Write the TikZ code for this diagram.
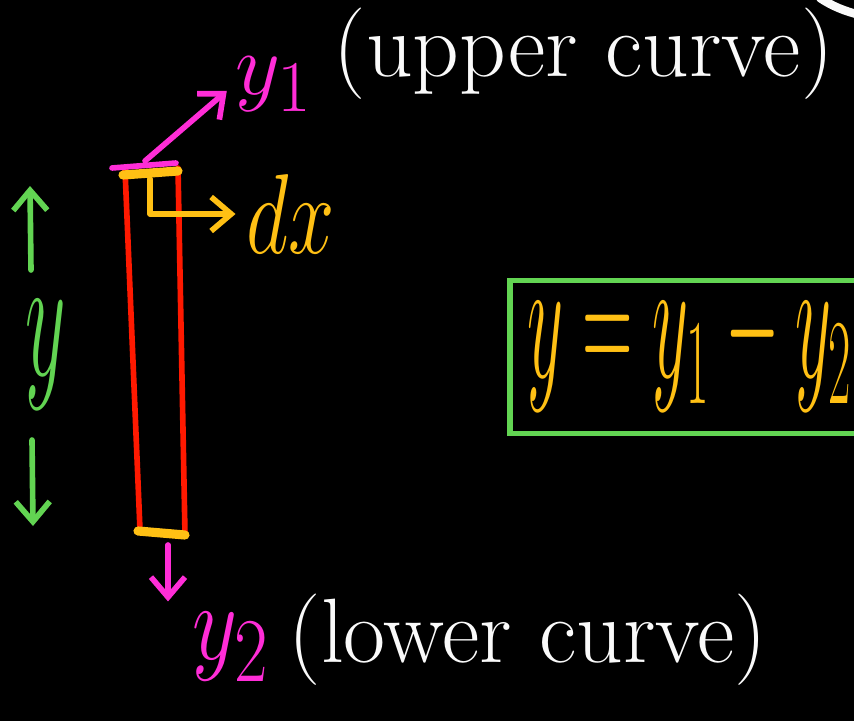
\documentclass[tikz,border=0pt]{standalone}
\usetikzlibrary{arrows.meta, positioning, calc}
\definecolor{boardblack}{RGB}{0,0,0}
\definecolor{penpink}{RGB}{255,45,215}
\definecolor{pengreen}{RGB}{98,212,82}
\definecolor{penorange}{RGB}{255,192,20}
\definecolor{penred}{RGB}{255,25,0}
\definecolor{penwhite}{RGB}{250,250,250}

\begin{document}
\begin{tikzpicture}[
    x=0.01cm, y=-0.01cm,
    >={Straight Barb[length=2mm, width=3.4mm]},
    % Pen styles
    stroke/.style={line width=1.6pt, line cap=round, line join=round},
    stripline/.style={line width=1.6pt, draw=penred, line cap=round},
    pinkarrow/.style={stroke, ->, draw=penpink},
    greenarrow/.style={stroke, ->, draw=pengreen},
    orangearrow/.style={stroke, ->, draw=penorange},
    % Text styles
    curvelabel/.style={
        text=penwhite, inner sep=0pt,
        font=\fontsize{26}{30}\selectfont
    },
    tallmath/.style={
        inner sep=0pt, transform shape, xscale=#1
    },
    pinklabel/.style={tallmath=1, text=penpink, font=\fontsize{28}{32}\selectfont},
    greenlabel/.style={tallmath=0.9, yscale=2.0, text=pengreen, font=\fontsize{24}{28}\selectfont},
    orangelabel/.style={tallmath=0.95, yscale=1.3, text=penorange, font=\fontsize{24}{28}\selectfont},
    formula/.style={tallmath=0.8, yscale=2.0, text=penorange, font=\fontsize{26}{30}\selectfont},
    areabox/.style={
        draw=pengreen, line width=1.6pt, rectangle,
        minimum width=4cm, minimum height=1.53cm
    },
]

% ===== BOARD =====
\fill[boardblack] (0,0) rectangle (854,721);
\useasboundingbox (0,0) rectangle (854,721);
\clip (0,0) rectangle (854,721);
\draw[penwhite, line width=2.4pt, line cap=round] (820,-2) .. controls (832,6) and (844,11) .. (860,15);

% ===== STRIP =====
\coordinate (tl) at (125,169);
\coordinate (bl) at (140,530);
\coordinate (tr) at (178,168);
\coordinate (br) at (185,535);
\draw[stripline] (tl) -- (bl);
\draw[stripline] (tr) -- (br);
\draw[stroke, draw=penpink] (112,168) -- (176,163);
\draw[penorange, line width=2.6pt, line cap=round] (123,175) -- (178,171);
\draw[penorange, line width=2.6pt, line cap=round] (138,531) -- (185,535);

% ===== UPPER END =====
\coordinate (topmid) at (145,161);
\node[pinklabel] (yone) at (274,84) {$y_1$};
\node[curvelabel, anchor=west] (upper) at (333,54) {(upper curve)};
\draw[pinkarrow, shorten >=3pt] (topmid) -- (yone.west);

% ===== WIDTH dx =====
\coordinate (dxstart) at (150,179);
\node[orangelabel] (dx) at (291,214) {$dx$};
\draw[orangearrow, shorten >=3pt] (dxstart) |- (dx.west);

% ===== HEIGHT y =====
\node[greenlabel] (ylen) at (46,355) {$y$};
\coordinate (upfrom) at (31,270);
\coordinate (upto) at (30,186);
\coordinate (downfrom) at (32,440);
\coordinate (downto) at (33,526);
\draw[greenarrow] (upfrom) -- (upto);
\draw[greenarrow] (downfrom) -- (downto);

% ===== LOWER END =====
\coordinate (botmid) at (168,545);
\node[pinklabel, yscale=1.25, anchor=north west] (ytwo) at (192,612) {$y_2$};
\node[curvelabel, anchor=west] (lower) at (288,640) {(lower curve)};
\draw[pinkarrow, shorten >=3pt] (botmid) -- (botmid |- ytwo.north);

% ===== RESULT =====
\node[areabox, anchor=west] (box) at (507,357) {};
\node[formula, anchor=west] (eqn) at ($(box.west)+(20,-14)$) {$y=y_1-y_2$};

\end{tikzpicture}
\end{document}
